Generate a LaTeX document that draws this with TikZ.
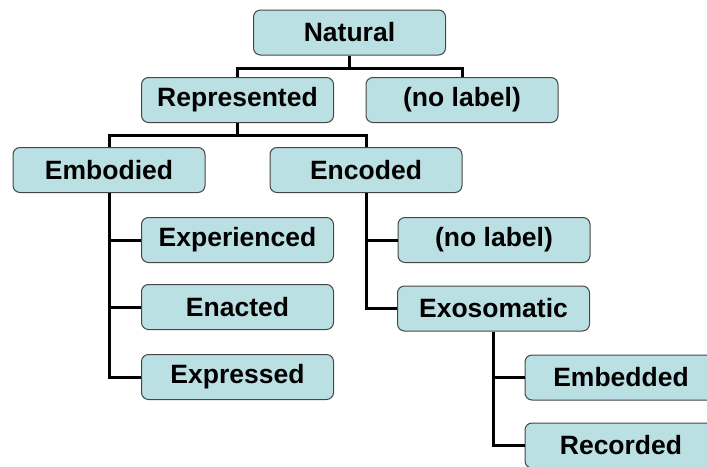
\documentclass[tikz,border=0pt]{standalone}
\usepackage{fontspec}
\setmainfont{Liberation Sans}
\usetikzlibrary{positioning}
\definecolor{boxfill}{RGB}{187, 224, 227}
\definecolor{boxline}{RGB}{70, 70, 70}

\begin{document}
\begin{tikzpicture}[x=1pt, y=-1pt,
    box/.style={rectangle, draw=boxline, fill=boxfill, line width=1pt, minimum width=192pt, minimum height=45pt, rounded corners=7pt, inner sep=0pt, font=\fontsize{26.5}{30}\selectfont\bfseries},
    link/.style={draw=black, line width=3pt}
]
    \clip (0,0) rectangle (707,466);
    \useasboundingbox (0,0) rectangle (707,466);

    % top levels
    \node[box] (nat) at (349.5,32.5) {Natural};
    \node[box] (rep) at (237.5,100) {Represented};
    \node[box] (nolabA) at (462,100) {(no label)};
    \node[box] (emb) at (109,170) {Embodied};
    \node[box] (enc) at (366,170) {Encoded};

    % embodied branch
    \node[box] (expd) at (237.5,240) {Experienced};
    \node[box] (ena) at (237.5,307) {Enacted};
    \node[box] (expr) at (237.5,377) {Expressed};

    % encoded branch
    \node[box] (nolabB) at (494,240) {(no label)};
    \node[box] (exo) at (493.5,308.5) {Exosomatic};
    \node[box] (embd) at (621,377.5) {Embedded};
    \node[box] (rec) at (621,445.5) {Recorded};

    \draw[link] (nat.south) -- ++(0,12.5) -| (rep.north);
    \draw[link] (nat.south) -- ++(0,12.5) -| (nolabA.north);
    \draw[link] (rep.south) -- ++(0,12.5) -| (emb.north);
    \draw[link] (rep.south) -- ++(0,12.5) -| (enc.north);

    \draw[link] (emb.south) |- (expd.west);
    \draw[link] (emb.south) |- (ena.west);
    \draw[link] (emb.south) |- (expr.west);

    \draw[link] (enc.south) |- (nolabB.west);
    \draw[link] (enc.south) |- (exo.west);

    \draw[link] (exo.south) |- (embd.west);
    \draw[link] (exo.south) |- (rec.west);

\end{tikzpicture}
\end{document}
